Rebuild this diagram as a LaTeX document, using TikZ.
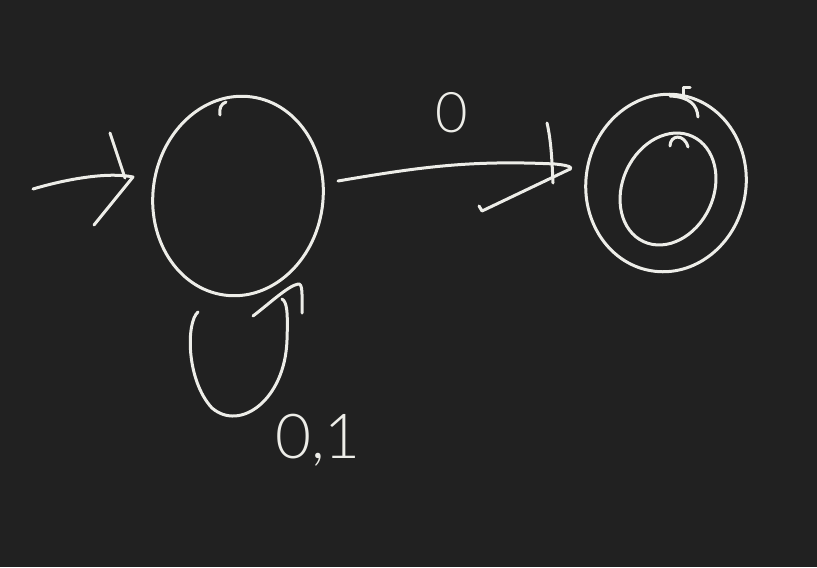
\documentclass[tikz,border=0pt]{standalone}
\usepackage{fontspec}
\newfontfamily\handfont{Lato Light}
\usetikzlibrary{shapes.geometric}
\definecolor{bgc}{HTML}{212121}
\definecolor{ink}{HTML}{EDEDE8}
\begin{document}
\begin{tikzpicture}[x=0.5pt,y=-0.5pt,
  pen/.style={draw=ink,line width=1.5pt,line cap=round,line join=round},
  statebox/.style={pen,ellipse,inner sep=0pt,outer sep=0pt},
  lbl/.style={text=ink,font=\handfont,inner sep=0pt}]
\fill[bgc] (0,0) rectangle (817,567);
\useasboundingbox (0,0) rectangle (817,567);
% states
\node[statebox,minimum width=85pt,minimum height=100pt,rotate=-8] (q0) at (238,196) {};
\node[statebox,minimum width=80pt,minimum height=89pt,rotate=-10] (q1) at (666,183) {};
\node[statebox,minimum width=45.5pt,minimum height=58pt,rotate=-25] (q1in) at (668,189) {};
% small pen marks on the states
\draw[pen] (220,115) .. controls (219,108) and (221,104) .. (226,102);
\draw[pen] (683,96) -- (683,88) -- (690,88);
\draw[pen] (670,96) .. controls (690,97) and (697,105) .. (698,117);
\draw[pen] (670,146) .. controls (670,135) and (684,133) .. (688,147);
% start arrow
\coordinate (s) at (33,189);
\coordinate (tipA) at (133,177);
\draw[pen] (s) .. controls (70,178) and (110,172) .. (tipA) -- (94,225);
\draw[pen] (110,133) -- (125,178);
% transition q0 -> q1
\coordinate (a1) at (338,181);
\coordinate (tipB) at (568,170);
\draw[pen] (a1) .. controls (420,167) and (470,160) .. (555,164)
  .. controls (575,166) and (572,169) .. (tipB) -- (482,211) -- (479,206);
\draw[pen] (547,123) .. controls (551,140) and (552,160) .. (553,183);
\node[lbl,font=\handfont\fontsize{28}{28}\selectfont] (l0) at (452,113) {0};
% self loop on q0
\coordinate (b1) at (198,312);
\coordinate (tipC) at (298,284);
\draw[pen] (b1) .. controls (186,322) and (186,380) .. (212,408)
  .. controls (240,432) and (285,400) .. (287,340)
  .. controls (288,312) and (287,302) .. (282,299);
\draw[pen] (253,316) .. controls (270,303) and (288,286) .. (tipC)
  .. controls (303,283) and (302,295) .. (302,313);
\node[lbl,font=\handfont\fontsize{31}{31}\selectfont] (l01) at (318,440) {0,1};
\end{tikzpicture}
\end{document}
